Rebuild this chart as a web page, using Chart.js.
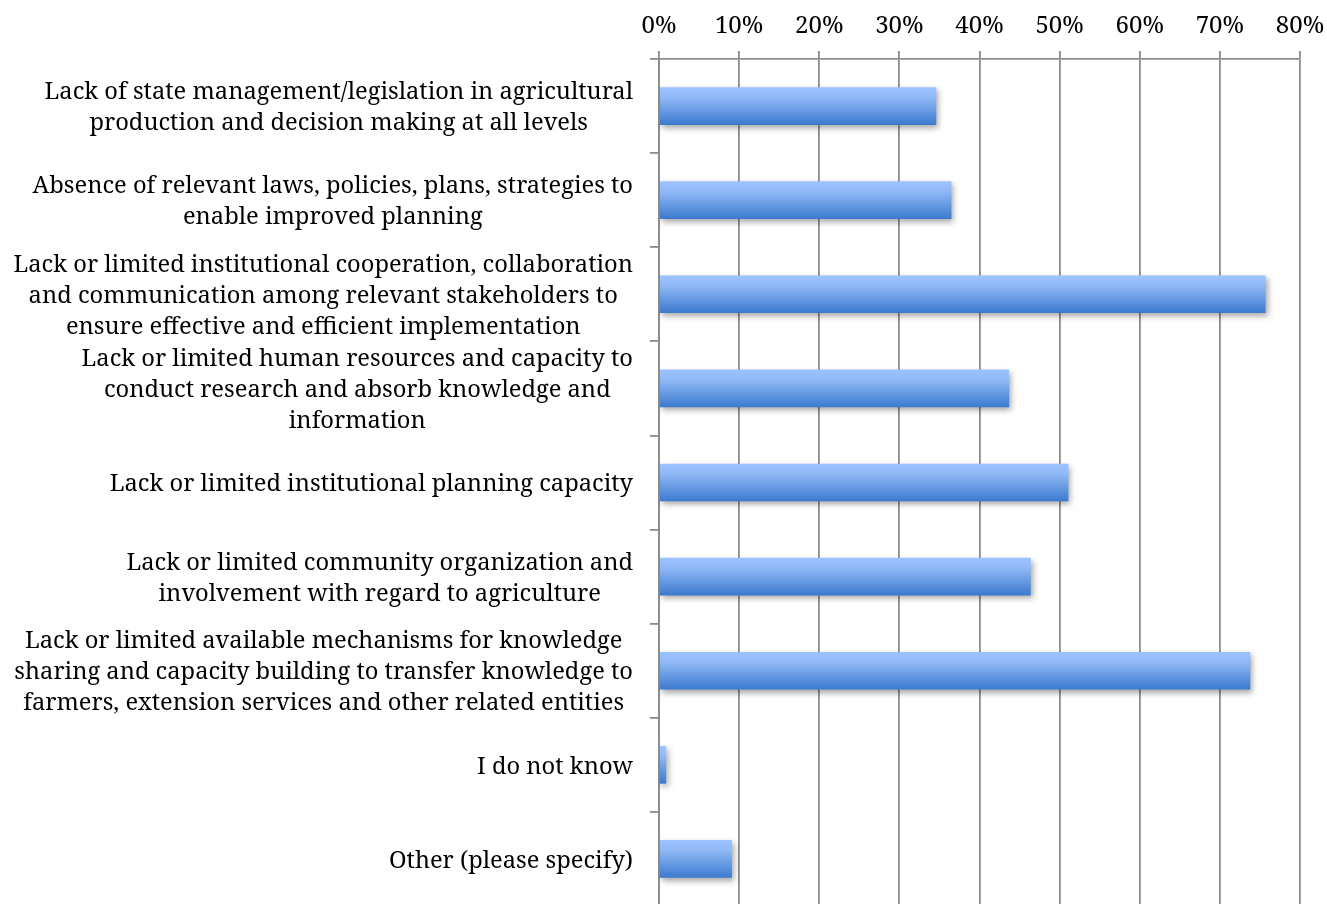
<!DOCTYPE html>
<html>
<head>
<meta charset="utf-8">
<script src="https://cdn.jsdelivr.net/npm/chart.js@4/dist/chart.umd.min.js"></script>
<style>
  html, body { margin: 0; padding: 0; background: #fff; overflow: hidden; }
  #wrap { position: relative; width: 1327px; height: 906px; }
</style>
</head>
<body>
<div id="wrap"><canvas id="c"></canvas></div>
<script>
const categories = [
  ["Lack of state management/legislation in agricultural", "production and decision making at all levels"],
  ["Absence of relevant laws, policies, plans, strategies to", "enable improved planning"],
  ["Lack or limited institutional cooperation, collaboration", "and communication among relevant stakeholders to", "ensure effective and efficient implementation"],
  ["Lack or limited human resources and capacity to", "conduct research and absorb knowledge and", "information"],
  ["Lack or limited institutional planning capacity"],
  ["Lack or limited community organization and", "involvement with regard to agriculture"],
  ["Lack or limited available mechanisms for knowledge", "sharing and capacity building to transfer knowledge to", "farmers, extension services and other related entities"],
  ["I do not know"],
  ["Other (please specify)"]
];
const values = [34.6, 36.5, 75.7, 43.7, 51.1, 46.4, 73.8, 0.9, 9.1];
const xTicks = [0, 10, 20, 30, 40, 50, 60, 70, 80];

const FONT = "'Noto Serif', 'DejaVu Serif', serif";
const FONT_SIZE = 23.7;
const LINE_H = 31;
const GRID = '#8c8c8c';
const BAR_PCT = 0.4;

function barGradient(ctx) {
  const chart = ctx.chart;
  if (!chart.chartArea || !chart.scales.y) return '#6a9fe8';
  const ys = chart.scales.y;
  const y = ys.getPixelForValue(ctx.dataIndex);
  const half = (ys.height / categories.length) * BAR_PCT / 2;
  const g = chart.ctx.createLinearGradient(0, y - half, 0, y + half);
  g.addColorStop(0, '#9cc3ff');
  g.addColorStop(0.25, '#92baf7');
  g.addColorStop(1, '#3b7ace');
  return g;
}

const shadowPlugin = {
  id: 'barShadow',
  beforeDatasetsDraw(chart) {
    const c = chart.ctx;
    c.save();
    c.shadowColor = 'rgba(0,0,0,0.35)';
    c.shadowBlur = 6;
    c.shadowOffsetX = 2;
    c.shadowOffsetY = 3;
  },
  afterDatasetsDraw(chart) {
    chart.ctx.restore();
  }
};

const labelPlugin = {
  id: 'catLabels',
  afterDraw(chart) {
    const c = chart.ctx;
    const ys = chart.scales.y;
    const right = chart.chartArea.left - 26;
    c.save();
    c.font = FONT_SIZE + 'px ' + FONT;
    c.fillStyle = '#000';
    c.textAlign = 'center';
    c.textBaseline = 'middle';
    categories.forEach((lines, i) => {
      const yc = ys.getPixelForValue(i) + 2;
      const w = Math.max(...lines.map(l => c.measureText(l).width));
      const xc = right - w / 2;
      const y0 = yc - (lines.length - 1) * LINE_H / 2;
      lines.forEach((l, k) => c.fillText(l, xc, y0 + k * LINE_H));
    });
    c.restore();
  }
};

new Chart(document.getElementById('c'), {
  type: 'bar',
  data: {
    labels: categories,
    datasets: [{
      data: values,
      backgroundColor: barGradient,
      borderWidth: 0,
      barPercentage: BAR_PCT,
      categoryPercentage: 1.0
    }]
  },
  plugins: [shadowPlugin, labelPlugin],
  options: {
    indexAxis: 'y',
    responsive: true,
    maintainAspectRatio: false,
    animation: false,
    layout: { padding: { top: 0, right: 27, bottom: 0, left: 0 } },
    plugins: { legend: { display: false }, tooltip: { enabled: false } },
    scales: {
      x: {
        position: 'top',
        min: 0,
        max: 80,
        afterBuildTicks(scale) { scale.ticks = xTicks.map(v => ({ value: v })); },
        afterFit(scale) { scale.height = 59; scale.paddingLeft = 0; scale.paddingRight = 0; },
        ticks: {
          callback: v => v + '%',
          font: { family: FONT, size: 24 },
          color: '#000',
          padding: 10,
          maxRotation: 0
        },
        grid: { color: GRID, lineWidth: 1.8, tickLength: 8, drawTicks: true },
        border: { display: true, color: GRID, width: 1.8 }
      },
      y: {
        offset: true,
        afterFit(scale) { scale.width = 659; },
        ticks: { display: false },
        grid: { offset: true, drawOnChartArea: false, color: GRID, lineWidth: 1.8, tickLength: 9, drawTicks: true },
        border: { display: true, color: GRID, width: 1.8 }
      }
    }
  }
});
</script>
</body>
</html>
